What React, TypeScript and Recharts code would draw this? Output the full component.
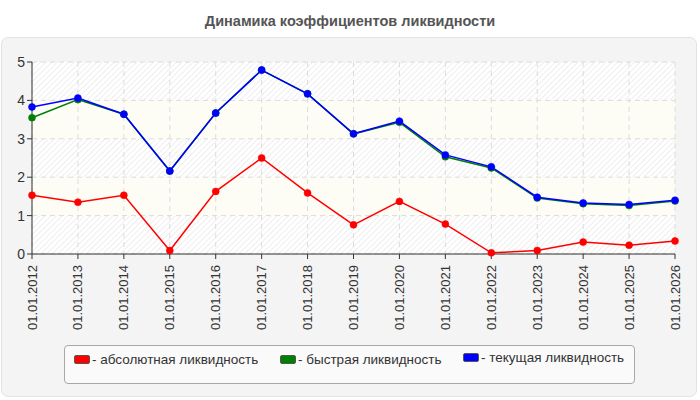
import React from "react";
import { CartesianGrid, Line, LineChart, XAxis, YAxis } from "recharts";

const dates = [
  "01.01.2012", "01.01.2013", "01.01.2014", "01.01.2015", "01.01.2016",
  "01.01.2017", "01.01.2018", "01.01.2019", "01.01.2020", "01.01.2021",
  "01.01.2022", "01.01.2023", "01.01.2024", "01.01.2025", "01.01.2026",
];

const absolute = [1.53, 1.35, 1.53, 0.09, 1.63, 2.5, 1.59, 0.76, 1.37, 0.78, 0.03, 0.09, 0.31, 0.23, 0.34];
const quick = [3.55, 4.02, 3.64, 2.16, 3.67, 4.79, 4.17, 3.13, 3.43, 2.53, 2.24, 1.46, 1.31, 1.26, 1.38];
const current = [3.83, 4.06, 3.64, 2.16, 3.67, 4.79, 4.17, 3.13, 3.46, 2.58, 2.27, 1.48, 1.33, 1.29, 1.4];

const yTicks = [0, 1, 2, 3, 4, 5];

const seriesNames = ["абсолютная ликвидность", "быстрая ликвидность", "текущая ликвидность"];
const seriesColors = ["#ff0000", "#008000", "#0000ff"];

const data = dates.map((d, i) => ({
  date: d,
  absolute: absolute[i],
  quick: quick[i],
  current: current[i],
}));

const FONT = "'Liberation Sans', Arial, sans-serif";

function DateTick(props: any) {
  const { x, y, payload } = props;
  return (
    <text
      x={x}
      y={y}
      transform={`rotate(-90, ${x}, ${y})`}
      textAnchor="end"
      dx={-4}
      dy={4.5}
      fontSize={13}
      fontFamily={FONT}
      fill="#333"
    >
      {payload.value}
    </text>
  );
}

export default function App() {
  const legendPos = [74, 280, 463];
  return (
    <div style={{ position: "absolute", left: 0, top: 0, width: 700, height: 400, background: "#fff", fontFamily: FONT }}>
      <svg width="0" height="0" style={{ position: "absolute" }}>
        <defs>
          <pattern id="hatch" width="4" height="4" patternUnits="userSpaceOnUse" patternTransform="rotate(45)">
            <rect width="4" height="4" fill="#ffffff" />
            <line x1="0" y1="0" x2="0" y2="4" stroke="#eaeaea" strokeWidth="1.6" />
          </pattern>
        </defs>
      </svg>
      <div
        style={{
          position: "absolute", left: 0, top: 1, width: 700, textAlign: "center",
          fontWeight: "bold", fontSize: 14.5, color: "#555", lineHeight: "40px",
        }}
      >
        Динамика коэффициентов ликвидности
      </div>
      <div
        style={{
          position: "absolute", left: 1, top: 37, width: 694, height: 358,
          background: "#f4f4f4", border: "1px solid #e2e2e2", borderRadius: 7,
        }}
      />
      <div style={{ position: "absolute", left: 0, top: 0 }}>
        <LineChart width={700} height={400} data={data} margin={{ top: 62, right: 25, left: 0, bottom: 0 }}>
          <CartesianGrid
            strokeDasharray="5 4"
            stroke="#dcdcdc"
            horizontalFill={["url(#hatch)", "#fdfdf6"]}
            fillOpacity={1}
          />
          <XAxis
            dataKey="date"
            height={146}
            interval={0}
            tick={<DateTick />}
            tickLine={{ stroke: "#333" }}
            axisLine={{ stroke: "#333" }}
            tickSize={5}
          />
          <YAxis
            width={32}
            domain={[0, 5]}
            ticks={yTicks}
            tickLine={{ stroke: "#333" }}
            axisLine={{ stroke: "#333" }}
            tickSize={5}
            tick={{ fontSize: 14, fill: "#333", fontFamily: FONT }}
          />
          <Line dataKey="absolute" stroke={seriesColors[0]} strokeWidth={1.5} dot={{ r: 3.5, fill: seriesColors[0], stroke: seriesColors[0], strokeWidth: 0.5 }} isAnimationActive={false} />
          <Line dataKey="quick" stroke={seriesColors[1]} strokeWidth={1.5} dot={{ r: 3.5, fill: seriesColors[1], stroke: seriesColors[1], strokeWidth: 0.5 }} isAnimationActive={false} />
          <Line dataKey="current" stroke={seriesColors[2]} strokeWidth={1.5} dot={{ r: 3.5, fill: seriesColors[2], stroke: seriesColors[2], strokeWidth: 0.5 }} isAnimationActive={false} />
        </LineChart>
      </div>
      <div
        style={{
          position: "absolute", left: 64, top: 345, width: 569, height: 37,
          background: "#fafafa", border: "1px solid #a8a8a8", borderRadius: 4,
        }}
      />
      {seriesNames.map((name, i) => (
        <div
          key={name}
          style={{
            position: "absolute", left: legendPos[i], top: i === 2 ? 350 : 352,
            display: "flex", alignItems: "center", fontSize: 13.5, color: "#333", whiteSpace: "nowrap",
          }}
        >
          <span
            style={{
              display: "inline-block", width: 16, height: 9, background: seriesColors[i],
              borderRadius: 2, border: "1px solid #555", marginRight: 2, boxSizing: "border-box",
            }}
          />
          - {name}
        </div>
      ))}
    </div>
  );
}
